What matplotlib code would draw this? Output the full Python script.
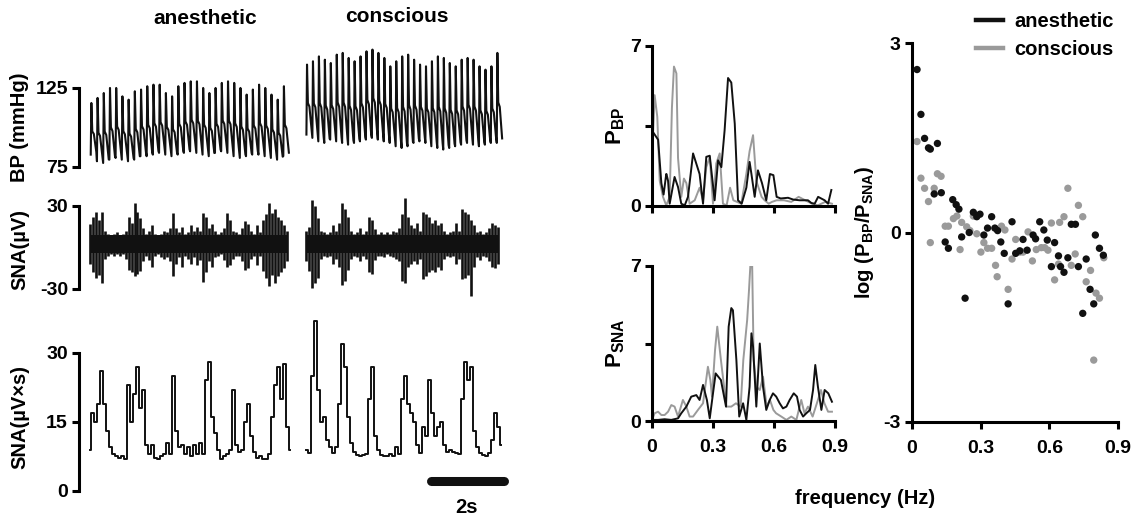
import numpy as np
import matplotlib
matplotlib.use("Agg")
import matplotlib.pyplot as plt
from matplotlib.lines import Line2D

plt.rcParams['font.family'] = ['Liberation Sans', 'DejaVu Sans']
plt.rcParams['font.weight'] = 'bold'
plt.rcParams['axes.labelweight'] = 'bold'
plt.rcParams['axes.unicode_minus'] = False
plt.rcParams['mathtext.fontset'] = 'custom'
plt.rcParams['mathtext.bf'] = 'Liberation Sans:bold'
plt.rcParams['mathtext.rm'] = 'Liberation Sans:bold'
plt.rcParams['mathtext.default'] = 'bf'

GREY = '#9a9a9a'
BLACK = '#111111'

# ---------------------------------------------------------------- data
# blood pressure, one value per beat (mmHg)
bp_anes_peak = [115.5, 118.7, 121.8, 125.0, 125.0, 119.7, 117.6, 122.9, 124.0, 126.1,
                127.1, 127.1, 121.8, 119.7, 126.1, 128.2, 129.2, 129.2, 125.0, 121.8,
                125.0, 128.2, 129.2, 128.2, 125.0, 120.8, 124.0, 127.1, 125.0, 120.8,
                117.6, 126.1]
bp_anes_trough = [82.8, 78.6, 77.5, 79.6, 80.7, 79.6, 78.6, 79.6, 81.8, 81.8,
                  82.8, 83.9, 82.8, 81.8, 82.8, 83.9, 84.9, 83.9, 82.8, 81.8,
                  83.9, 84.9, 83.9, 81.8, 80.7, 81.8, 82.8, 82.8, 81.8, 80.7,
                  79.6, 81.8]
bp_cons_peak = [139.8, 141.9, 145.0, 142.9, 140.8, 146.1, 147.2, 144.0, 141.9, 145.0,
                148.2, 149.3, 147.2, 144.0, 138.7, 141.9, 145.0, 146.1, 142.9, 139.8,
                138.7, 141.9, 145.0, 144.0, 140.8, 138.7, 142.9, 144.0, 142.9, 138.7,
                136.6, 138.7, 147.2]
bp_cons_trough = [95.5, 93.4, 91.2, 90.2, 92.3, 91.2, 90.2, 89.1, 90.2, 91.2,
                  92.3, 93.4, 92.3, 91.2, 90.2, 88.1, 87.0, 88.1, 90.2, 91.2,
                  90.2, 88.1, 87.0, 86.0, 87.0, 88.1, 89.1, 90.2, 89.1, 88.1,
                  89.1, 90.2, 90.2]
beat_anes = 0.1535   # s
beat_cons = 0.147    # s

# raw SNA envelope (µV), sampled every 0.074 s
sna_dt = 0.0741
sna_noise = (-4, 9)   # background noise band
sna_anes_top = [17, 22, 26, 20, 26, 12, 10, 9, 10, 11, 9, 10, 12, 22, 18, 32, 26, 21, 14, 10,
                12, 16, 10, 9, 10, 12, 11, 14, 25, 14, 11, 15, 10, 11, 16, 12, 15, 12, 25, 22,
                14, 17, 12, 10, 11, 14, 25, 20, 12, 11, 10, 14, 19, 17, 12, 10, 16, 11, 20, 24,
                32, 25, 28, 22, 20, 16, 12]
sna_anes_bot = [-12, -18, -22, -20, -26, -8, -6, -5, -6, -5, -6, -5, -8, -16, -18, -21, -19, -17, -10, -6,
                -9, -14, -6, -5, -7, -8, -7, -10, -21, -12, -7, -14, -6, -8, -12, -7, -13, -9, -25, -18,
                -10, -14, -7, -6, -5, -9, -14, -13, -8, -6, -6, -10, -16, -15, -8, -6, -13, -6, -17, -22,
                -28, -20, -26, -21, -18, -15, -10]
sna_cons_top = [12, 15, 34, 30, 21, 12, 11, 10, 11, 16, 12, 18, 32, 28, 22, 12, 10, 11, 14, 10,
                12, 22, 20, 13, 10, 11, 10, 11, 10, 12, 11, 14, 24, 36, 22, 16, 14, 18, 12, 26,
                24, 22, 18, 20, 16, 18, 12, 10, 11, 12, 18, 12, 28, 26, 24, 20, 16, 11, 12, 10,
                11, 14, 18, 16, 15]
sna_cons_bot = [-10, -17, -29, -26, -22, -8, -6, -7, -6, -12, -8, -14, -27, -24, -16, -8, -6, -7, -10, -6,
                -8, -18, -19, -9, -6, -6, -7, -5, -6, -7, -8, -10, -24, -26, -14, -12, -10, -12, -8, -23,
                -21, -18, -16, -18, -14, -16, -8, -6, -7, -6, -12, -8, -23, -22, -20, -35, -14, -7, -9, -6,
                -7, -10, -14, -15, -12]

# integrated SNA (µV×s), same sampling
isna_anes = [9, 17, 15, 19, 26, 19, 13, 9.5, 8, 7.5, 7.2, 7.5, 7, 23, 15, 21, 27, 18, 22, 10,
             8, 10, 7.2, 7, 7.5, 8, 10.5, 8, 25, 13, 9.5, 10, 8, 9.5, 7.5, 10, 8, 10.5, 8, 24,
             28, 16, 12.5, 9, 7, 7.5, 8, 9, 22, 10, 8.5, 9, 15, 19, 12, 8.5, 7.2, 7.5, 7, 7,
             8, 16, 23, 27, 20, 27.5, 14, 9]
isna_cons = [9, 8.2, 25, 37, 22, 15, 16, 11, 9.5, 8.2, 9.5, 19, 32, 27, 16, 10.5, 8.5, 7.8, 7.5, 7.8,
             8, 20, 27, 12, 9, 7.8, 7.5, 7.5, 8, 7.5, 9.5, 8, 20, 25, 19, 17, 15, 10, 8.2, 14,
             12, 24, 17, 12, 14, 15, 10, 8.5, 9, 8.5, 8.2, 8, 20, 28, 24, 27, 13, 9.5, 8.2, 7.8,
             7.5, 8.2, 11, 17, 14, 10]
t0_anes = 0.26
t0_cons = 5.62

# power spectra
fbp_anes = [0.0, 0.030, 0.046, 0.057, 0.070, 0.071, 0.079, 0.087, 0.111, 0.128, 0.144, 0.161, 0.177,
            0.202, 0.234, 0.251, 0.267, 0.284, 0.308, 0.325, 0.341, 0.357, 0.374, 0.390, 0.407,
            0.423, 0.441, 0.464, 0.480, 0.489, 0.505, 0.521, 0.541, 0.562, 0.580, 0.597, 0.613,
            0.633, 0.669, 0.695, 0.726, 0.751, 0.767, 0.784, 0.800, 0.817, 0.849, 0.866, 0.882]
pbp_anes = [3.3, 2.9, 1.0, 0.5, 1.4, 1.4, 1.1, 0.1, 1.27, 0.83, 0.1, 0.03, 0.4,
            2.3, 1.4, 0.1, 2.15, 2.2, 0.25, 2.0, 1.7, 3.3, 5.6, 5.4, 3.6,
            0.25, 0.1, 0.8, 1.93, 1.4, 0.4, 1.56, 1.0, 0.25, 1.4, 1.35, 0.4,
            0.33, 0.36, 0.28, 0.25, 0.25, 0.25, 0.13, 0.1, 0.4, 0.25, 0.1, 0.7]
fbp_cons = [0.0, 0.013, 0.026, 0.038, 0.054, 0.070, 0.087, 0.098, 0.108, 0.120, 0.128, 0.144, 0.157,
            0.169, 0.185, 0.210, 0.234, 0.251, 0.267, 0.284, 0.300, 0.316, 0.333, 0.349, 0.367,
            0.384, 0.400, 0.439, 0.464, 0.480, 0.497, 0.513, 0.539, 0.554, 0.574, 0.590, 0.613,
            0.649, 0.685, 0.721, 0.754, 0.787, 0.816, 0.852, 0.885]
pbp_cons = [2.1, 4.85, 3.9, 1.1, 0.4, 0.03, 0.4, 4.3, 6.1, 5.8, 2.1, 0.4, 1.2,
            1.0, 0.1, 0.25, 0.8, 0.25, 1.7, 2.15, 0.1, 1.86, 2.3, 0.1, 0.03,
            0.8, 0.25, 0.1, 1.4, 2.4, 3.1, 1.1, 0.4, 0.25, 0.1, 0.18, 0.25,
            0.25, 0.18, 0.4, 0.25, 0.1, 0.03, 0.18, 0.1]
fsna_anes = [0.0, 0.030, 0.062, 0.095, 0.128, 0.144, 0.169, 0.193, 0.218, 0.234, 0.251, 0.270,
             0.284, 0.300, 0.313, 0.339, 0.364, 0.377, 0.390, 0.398, 0.415, 0.429, 0.448, 0.464,
             0.480, 0.489, 0.497, 0.513, 0.530, 0.546, 0.562, 0.579, 0.595, 0.611, 0.628, 0.644,
             0.661, 0.677, 0.697, 0.713, 0.726, 0.743, 0.759, 0.777, 0.792, 0.803, 0.816, 0.833,
             0.849, 0.867, 0.885]
psna_anes = [0.05, 0.05, 0.08, 0.05, 0.12, 0.35, 0.65, 1.1, 1.17, 0.95, 1.63, 0.95, 0.12,
             1.25, 2.15, 1.85, 0.65, 4.26, 5.1, 5.0, 2.75, 0.2, 0.8, 0.05, 1.55, 3.96, 3.36,
             0.65, 3.5, 1.55, 0.5, 0.95, 1.25, 1.1, 0.8, 0.57, 0.65, 0.95, 1.25, 1.1, 0.5,
             0.2, 0.35, 0.5, 1.4, 2.53, 1.55, 0.5, 1.4, 1.25, 0.87]
fsna_cons = [0.0, 0.013, 0.030, 0.046, 0.062, 0.079, 0.095, 0.111, 0.128, 0.152, 0.169, 0.185,
             0.202, 0.226, 0.251, 0.275, 0.287, 0.295, 0.310, 0.321, 0.339, 0.366, 0.390, 0.413,
             0.436, 0.449, 0.468, 0.477, 0.486, 0.492, 0.500, 0.513, 0.530, 0.546, 0.564, 0.580,
             0.597, 0.610, 0.636, 0.661, 0.685, 0.710, 0.734, 0.750, 0.767, 0.790, 0.816, 0.831,
             0.848, 0.866, 0.885]
psna_cons = [0.05, 0.35, 0.42, 0.27, 0.27, 0.42, 0.72, 0.65, 0.2, 0.95, 0.65, 0.2,
             0.2, 0.5, 0.8, 2.45, 1.85, 1.1, 3.2, 4.26, 2.75, 0.65, 0.65, 0.8,
             0.65, 2.75, 4.56, 5.9, 7.4, 7.4, 2.75, 1.55, 1.4, 2.0, 0.65, 0.95,
             0.5, 0.35, 0.2, 0.05, 0.2, 0.05, 0.95, 0.35, 0.65, 0.2, 0.95, 1.4,
             0.8, 0.42, 0.42]

# log(PBP/PSNA) per frequency bin
fr_anes = [0.022, 0.039, 0.055, 0.072, 0.080, 0.111, 0.097, 0.128, 0.178, 0.193, 0.205, 0.268,
           0.297, 0.283, 0.348, 0.145, 0.159, 0.217, 0.250, 0.314, 0.330, 0.362, 0.374, 0.388,
           0.403, 0.437, 0.453, 0.471, 0.485, 0.503, 0.529, 0.540, 0.558, 0.576, 0.591, 0.623,
           0.640, 0.609, 0.649, 0.664, 0.681, 0.696, 0.714, 0.727, 0.761, 0.801, 0.819, 0.836,
           0.778, 0.794, 0.746, 0.232, 0.420]
lr_anes = [2.58, 1.87, 1.49, 1.34, 1.32, 1.41, 0.61, 0.63, 0.52, 0.44, 0.37, 0.32,
           0.29, 0.25, 0.25, -0.15, -0.25, -0.07, 0.0, -0.04, 0.07, 0.07, 0.03, -0.15,
           -0.33, 0.17, -0.33, -0.29, -0.11, -0.28, -0.04, -0.10, 0.17, 0.04, -0.12, -0.16,
           -0.37, -0.54, -0.54, -0.63, -0.40, 0.13, 0.13, -0.54, -0.42, -0.04, -0.25, -0.36,
           -0.90, -1.13, -1.28, -1.04, -1.13]
fr_cons = [0.022, 0.039, 0.111, 0.127, 0.055, 0.097, 0.072, 0.080, 0.145, 0.159, 0.181, 0.196,
           0.217, 0.239, 0.253, 0.210, 0.268, 0.283, 0.314, 0.301, 0.330, 0.348, 0.365, 0.372,
           0.391, 0.406, 0.420, 0.437, 0.453, 0.471, 0.485, 0.507, 0.526, 0.543, 0.565, 0.580,
           0.594, 0.609, 0.645, 0.664, 0.681, 0.727, 0.746, 0.713, 0.640, 0.696, 0.623, 0.761,
           0.780, 0.804, 0.819, 0.838, 0.794]
lr_cons = [1.44, 0.86, 0.93, 0.89, 0.70, 0.70, 0.49, -0.16, 0.10, 0.10, 0.22, 0.26,
           0.16, 0.09, 0.03, -0.27, 0.26, -0.02, -0.16, -0.31, -0.25, -0.25, -0.52, -0.70,
           0.10, 0.04, -0.90, -0.42, -0.11, -0.31, -0.31, 0.01, -0.45, -0.27, -0.24, -0.24,
           -0.28, 0.15, 0.16, 0.25, 0.70, 0.43, 0.25, -0.34, -0.50, -0.52, -0.75, -0.78,
           -0.60, -0.96, -1.04, -0.40, -2.02]

# ---------------------------------------------------------------- figure
W, H = 1137, 517
fig = plt.figure(figsize=(W / 100, H / 100), dpi=100)


def box(x0, y0, x1, y1):
    # pixel box (top-left origin) -> figure fraction
    return [x0 / W, 1 - y1 / H, (x1 - x0) / W, (y1 - y0) / H]


def style(ax, bottom=True):
    for s in ['top', 'right']:
        ax.spines[s].set_visible(False)
    ax.spines['left'].set_linewidth(2.2)
    ax.spines['bottom'].set_linewidth(2.2)
    ax.tick_params(direction='out', length=5, width=2.2, labelsize=14, pad=3)
    if not bottom:
        ax.spines['bottom'].set_visible(False)
        ax.set_xticks([])


def bold_ticks(ax):
    for lab in ax.get_xticklabels() + ax.get_yticklabels():
        lab.set_fontweight('bold')


def beats(t0, period, peaks, troughs):
    shape_t = [0.0, 0.1, 0.25, 0.5, 0.9]
    shape_a = [0.0, 1.0, 0.45, 0.4, 0.05]
    tt, yy = [], []
    for i, (p, q) in enumerate(zip(peaks, troughs)):
        for st, sa in zip(shape_t, shape_a):
            tt.append(t0 + (i + st) * period)
            yy.append(q + sa * (p - q))
    return tt, yy


XL = (0, 10.7)
LAB_X = -50 / 433

# BP
ax_bp = fig.add_axes(box(79, 45, 512, 172))
style(ax_bp, bottom=False)
for t0, per, pk, tr in [(0.29, beat_anes, bp_anes_peak, bp_anes_trough),
                        (t0_cons, beat_cons, bp_cons_peak, bp_cons_trough)]:
    tt, yy = beats(t0, per, pk, tr)
    ax_bp.plot(tt, yy, color=BLACK, lw=1.5)
ax_bp.set_xlim(*XL)
ax_bp.set_ylim(71.8, 152.2)
ax_bp.spines['left'].set_bounds(75, 125)
ax_bp.set_yticks([75, 125])
ax_bp.set_ylabel('BP (mmHg)', fontsize=14.5)
ax_bp.yaxis.set_label_coords(LAB_X, (172 - 127) / 127)

# raw SNA
ax_sna = fig.add_axes(box(79, 180, 512, 300))
style(ax_sna, bottom=False)
for t0, top, bot in [(t0_anes, sna_anes_top, sna_anes_bot), (t0_cons, sna_cons_top, sna_cons_bot)]:
    tt = t0 + sna_dt * np.arange(len(top))
    ax_sna.vlines(tt, bot, top, color=BLACK, lw=1.9)
    ax_sna.fill_between(tt, sna_noise[0], sna_noise[1], color=BLACK, lw=0)
ax_sna.set_xlim(*XL)
ax_sna.set_ylim(-38.0, 48.8)
ax_sna.spines['left'].set_bounds(-30, 30)
ax_sna.set_yticks([-30, 30])
ax_sna.set_ylabel('SNA(µV)', fontsize=14.5)
ax_sna.yaxis.set_label_coords(LAB_X, (300 - 249) / 120)

# integrated SNA
ax_int = fig.add_axes(box(79, 305, 512, 496))
style(ax_int, bottom=False)
for t0, vals in [(t0_anes, isna_anes), (t0_cons, isna_cons)]:
    tt = t0 + sna_dt * np.arange(len(vals))
    ax_int.plot(tt, vals, color=BLACK, lw=1.4, drawstyle='steps-mid')
ax_int.set_xlim(*XL)
ax_int.set_ylim(-1.09, 40.4)
ax_int.spines['left'].set_bounds(0, 30)
ax_int.set_yticks([0, 15, 30])
ax_int.set_ylabel('SNA(µV×s)', fontsize=14.5)
ax_int.yaxis.set_label_coords(LAB_X, (496 - 417) / 191)
ax_int.plot([8.7, 10.5], [2.2, 2.2], color=BLACK, lw=6.5, solid_capstyle='round', clip_on=False)
ax_int.text(9.58, -3.6, '2s', ha='center', va='center', fontsize=14.5, clip_on=False)

fig.text(205 / W, 1 - 19 / H, 'anesthetic', ha='center', va='center', fontsize=15)
fig.text(397 / W, 1 - 16 / H, 'conscious', ha='center', va='center', fontsize=15)

# spectra
ax_pbp = fig.add_axes(box(652, 46, 835, 206))
ax_psna = fig.add_axes(box(652, 266, 835, 421))
for ax, fa, pa, fc, pc, lab in [(ax_pbp, fbp_anes, pbp_anes, fbp_cons, pbp_cons, r'P$_{BP}$'),
                                (ax_psna, fsna_anes, psna_anes, fsna_cons, psna_cons, r'P$_{SNA}$')]:
    style(ax)
    ax.plot(fc, pc, color=GREY, lw=1.4)
    ax.plot(fa, pa, color=BLACK, lw=1.4)
    ax.set_xlim(0, 0.9)
    ax.set_ylim(0, 7)
    ax.set_yticks([0, 3.5, 7])
    ax.set_yticklabels(['0', '', '7'])
    ax.set_xticks([0, 0.3, 0.6, 0.9])
    ax.set_ylabel(lab, fontsize=16, labelpad=2)
ax_pbp.set_xticklabels([])
ax_psna.set_xticklabels(['0', '0.3', '0.6', '0.9'])
ax_psna.tick_params(axis='x', pad=8)

# ratio scatter
ax_r = fig.add_axes(box(912, 43, 1118, 422))
style(ax_r)
ax_r.scatter(fr_cons, lr_cons, s=28, color=GREY, edgecolors='none', zorder=2)
ax_r.scatter(fr_anes, lr_anes, s=28, color=BLACK, edgecolors='none', zorder=3)
ax_r.set_xlim(0, 0.9)
ax_r.set_ylim(-3, 3)
ax_r.set_yticks([-3, 0, 3])
ax_r.set_xticks([0, 0.3, 0.6, 0.9])
ax_r.set_xticklabels(['0', '0.3', '0.6', '0.9'])
ax_r.tick_params(axis='x', pad=8)
ax_r.set_ylabel(r'log (P$_{BP}$/P$_{SNA}$)', fontsize=14.5)
ax_r.yaxis.set_label_coords(-36 / 206, 0.5)

for ax in [ax_bp, ax_sna, ax_int, ax_pbp, ax_psna, ax_r]:
    bold_ticks(ax)

fig.text(865 / W, 1 - 498 / H, 'frequency (Hz)', ha='center', va='center', fontsize=14.5)

handles = [Line2D([], [], color=BLACK, lw=3.2), Line2D([], [], color=GREY, lw=3.2)]
fig.legend(handles, ['anesthetic', 'conscious'], loc='upper left',
           bbox_to_anchor=(976 / W, 1 - 12 / H), frameon=False, fontsize=14.5,
           handlelength=1.35, handletextpad=0.55, labelspacing=0.45,
           borderpad=0, borderaxespad=0)

fig.savefig('out.png', dpi=100)
